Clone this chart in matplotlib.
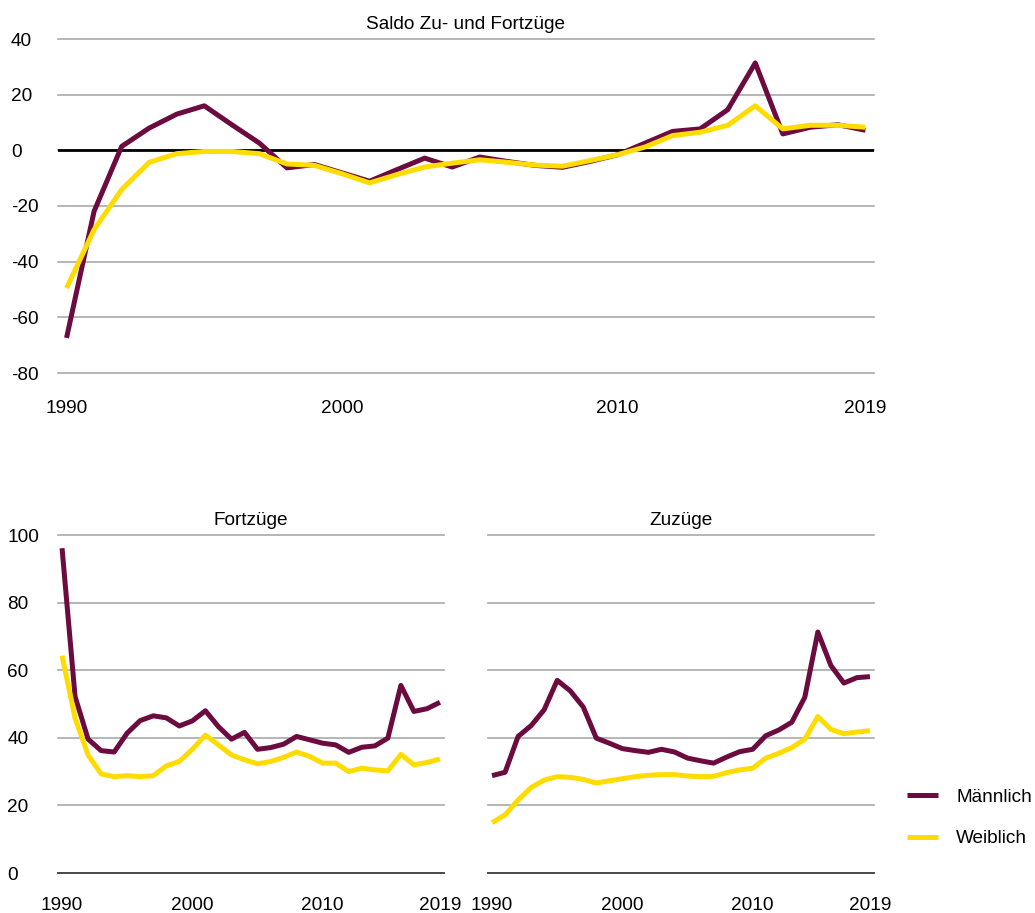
import matplotlib
matplotlib.use("Agg")
import matplotlib.pyplot as plt

plt.rcParams['font.family'] = ['Liberation Sans', 'DejaVu Sans']
plt.rcParams['axes.unicode_minus'] = False

years = list(range(1990, 2020))

saldo_m = [-67.4, -21.9, 1.4, 8.0, 13.0, 16.0, 9.2, 2.6, -6.3, -5.1,
           -8.1, -11.1, -6.9, -2.8, -6.0, -2.4, -4.0, -5.4, -6.1, -4.0,
           -1.6, 2.6, 6.8, 7.7, 14.6, 31.4, 5.9, 8.3, 9.2, 7.2]
saldo_w = [-49.5, -28.5, -14.1, -4.3, -1.2, -0.4, -0.4, -1.2, -4.9, -5.4,
           -8.4, -11.7, -8.7, -6.0, -4.6, -3.4, -4.3, -5.3, -5.7, -3.7,
           -1.6, 1.2, 5.3, 6.5, 9.0, 16.0, 7.7, 9.0, 9.0, 8.3]

fort_m = [96.1, 52.2, 39.6, 36.2, 35.8, 41.4, 45.1, 46.5, 45.9, 43.5,
          45.0, 48.0, 43.3, 39.6, 41.6, 36.6, 37.1, 38.1, 40.4, 39.4,
          38.4, 37.9, 35.7, 37.2, 37.6, 39.9, 55.5, 47.8, 48.6, 50.5]
fort_w = [64.3, 45.8, 34.9, 29.3, 28.5, 28.8, 28.5, 28.8, 31.7, 33.0,
          36.6, 40.8, 37.9, 34.9, 33.5, 32.3, 33.0, 34.2, 35.8, 34.5,
          32.5, 32.5, 30.0, 31.0, 30.5, 30.2, 35.1, 32.0, 32.7, 33.7]

zu_m = [28.8, 29.8, 40.4, 43.6, 48.3, 57.0, 53.9, 49.1, 39.9, 38.4,
        36.8, 36.2, 35.7, 36.6, 35.8, 34.0, 33.2, 32.5, 34.3, 35.9,
        36.6, 40.6, 42.3, 44.6, 52.0, 71.3, 61.4, 56.2, 57.8, 58.1]
zu_w = [14.9, 17.2, 21.6, 25.3, 27.5, 28.5, 28.3, 27.7, 26.6, 27.3,
        27.9, 28.5, 28.9, 29.1, 29.1, 28.7, 28.5, 28.6, 29.7, 30.5,
        31.0, 34.0, 35.4, 37.1, 39.6, 46.3, 42.5, 41.2, 41.7, 42.1]

x_ticks = [1990, 2000, 2010, 2019]
top_yticks = [-80, -60, -40, -20, 0, 20, 40]
bottom_yticks = [0, 20, 40, 60, 80, 100]

titles = ["Saldo Zu- und Fortzüge", "Fortzüge", "Zuzüge"]
labels = ["Männlich", "Weiblich"]

C_M = '#6b0b40'
C_W = '#ffdc00'
GRID = '#a9a9a9'
FS = 13.7
LW = 3.6

fig = plt.figure(figsize=(10.35, 9.13), dpi=100)

W, H = 1035.0, 913.0
def rect(l, t, r, b):
    return [l / W, 1 - b / H, (r - l) / W, (b - t) / H]

ax_top = fig.add_axes(rect(58, 39, 874, 373))
ax_bl = fig.add_axes(rect(58, 535, 444, 873))
ax_br = fig.add_axes(rect(488, 535, 874, 873))


def style(ax, yticks, ylim, title, ypad, xpad, show_y=True):
    ax.set_xlim(1989.69, 2019.31)
    ax.set_ylim(*ylim)
    ax.set_xticks(x_ticks)
    ax.set_yticks(yticks)
    for s in ax.spines.values():
        s.set_visible(False)
    ax.grid(axis='y', color=GRID, linewidth=1.2)
    ax.grid(axis='x', visible=False)
    ax.set_axisbelow(True)
    for gl in ax.yaxis.get_gridlines():
        gl.set_clip_on(False)
    ax.tick_params(axis='both', length=0, labelsize=FS, colors='black')
    ax.tick_params(axis='x', pad=xpad)
    ax.tick_params(axis='y', pad=ypad, labelleft=show_y)
    if show_y:
        for lbl in ax.get_yticklabels():
            lbl.set_horizontalalignment('left')
    ax.set_title(title, fontsize=FS, pad=7.0)


style(ax_top, top_yticks, (-80, 40), titles[0], 33.8, 19.4)
ax_top.axhline(0, color='black', linewidth=2.0, zorder=1.5)
ax_top.plot(years, saldo_m, color=C_M, lw=LW, solid_capstyle='butt', zorder=2)
ax_top.plot(years, saldo_w, color=C_W, lw=LW, solid_capstyle='butt', zorder=3)

style(ax_bl, bottom_yticks, (0, 100), titles[1], 36.5, 17.0)
ax_bl.axhline(0, color='#404040', linewidth=1.3, zorder=1.5, clip_on=False)
ax_bl.plot(years, fort_m, color=C_M, lw=LW, solid_capstyle='butt', zorder=2)
ax_bl.plot(years, fort_w, color=C_W, lw=LW, solid_capstyle='butt', zorder=3)

style(ax_br, bottom_yticks, (0, 100), titles[2], 36.5, 17.0, show_y=False)
ax_br.axhline(0, color='#404040', linewidth=1.3, zorder=1.5, clip_on=False)
lm, = ax_br.plot(years, zu_m, color=C_M, lw=LW, solid_capstyle='butt', zorder=2)
lw_, = ax_br.plot(years, zu_w, color=C_W, lw=LW, solid_capstyle='butt', zorder=3)

fig.legend([lm, lw_], labels, loc='center left',
           bbox_to_anchor=(907 / W, 1 - 818 / H), frameon=False,
           fontsize=FS, handlelength=1.63, handletextpad=0.95,
           labelspacing=1.25, borderpad=0, borderaxespad=0)

fig.savefig('out.png', dpi=100)
